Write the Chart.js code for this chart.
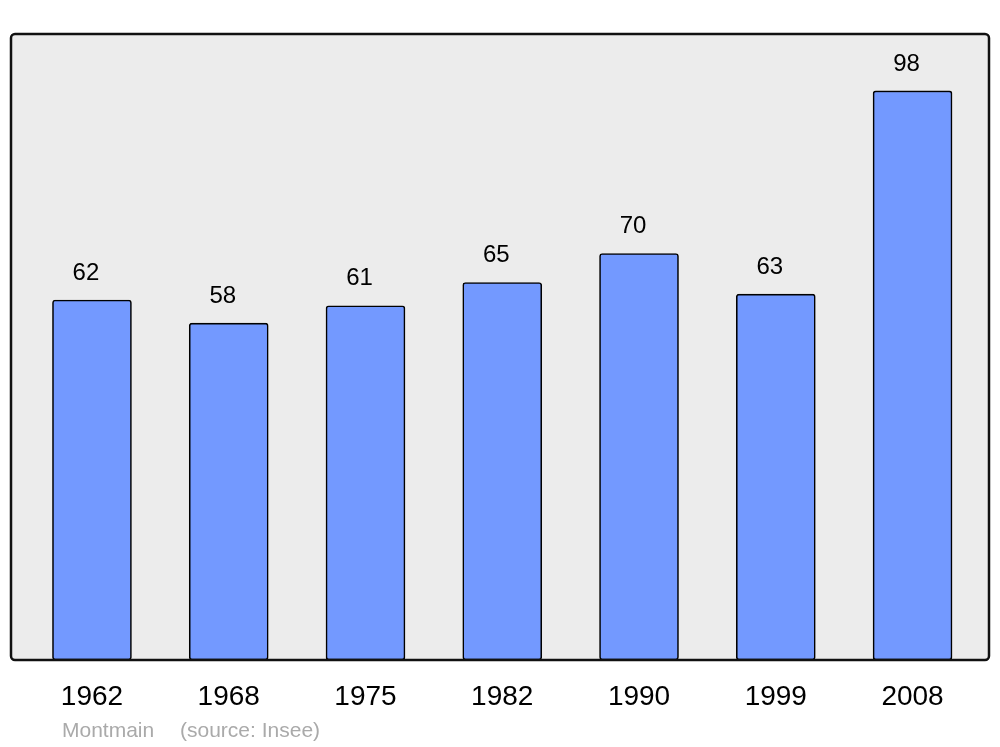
<!DOCTYPE html>
<html>
<head>
<meta charset="utf-8">
<script src="https://cdn.jsdelivr.net/npm/chart.js@4/dist/chart.umd.min.js"></script>
<style>
  html, body { margin: 0; padding: 0; background: #fff; }
  #wrap { width: 1000px; height: 747px; position: relative; }
</style>
</head>
<body>
<div id="wrap"><canvas id="popChart" width="1000" height="747"></canvas></div>
<script>
  // data
  const years = ['1962', '1968', '1975', '1982', '1990', '1999', '2008'];
  const population = [62, 58, 61, 65, 70, 63, 98];
  const town = 'Montmain';
  const source = '(source: Insee)';

  const font = "'Liberation Sans', Arial, sans-serif";

  const frame = {
    id: 'frame',
    beforeDraw(chart) {
      const { ctx, chartArea: a } = chart;
      ctx.save();
      ctx.fillStyle = '#ececec';
      ctx.beginPath();
      ctx.roundRect(a.left, a.top, a.right - a.left, a.bottom - a.top, 4);
      ctx.fill();
      ctx.restore();
    },
    afterDatasetsDraw(chart) {
      const { ctx, chartArea: a } = chart;
      ctx.save();
      ctx.strokeStyle = '#111';
      ctx.lineWidth = 2.5;
      ctx.beginPath();
      ctx.roundRect(a.left, a.top, a.right - a.left, a.bottom - a.top, 4);
      ctx.stroke();

      // value labels
      ctx.fillStyle = '#000';
      ctx.font = '24px ' + font;
      ctx.textAlign = 'center';
      ctx.textBaseline = 'middle';
      chart.getDatasetMeta(0).data.forEach((bar, i) => {
        ctx.fillText(String(population[i]), bar.x - 6, bar.y - 27);
      });

      // footer
      ctx.fillStyle = '#aaa';
      ctx.font = '21px ' + font;
      ctx.textAlign = 'left';
      ctx.textBaseline = 'alphabetic';
      ctx.fillText(town, 62, 737);
      ctx.fillText(source, 180, 737);
      ctx.restore();
    }
  };

  new Chart(document.getElementById('popChart'), {
    type: 'bar',
    data: {
      datasets: [{
        data: population.map((v, i) => ({ x: i, y: v })),
        backgroundColor: '#7399ff',
        borderColor: '#000',
        borderWidth: 1.6,
        borderRadius: 3,
        borderSkipped: false,
        barThickness: 79
      }]
    },
    options: {
      responsive: false,
      animation: false,
      layout: { padding: { top: 34, left: 11, right: 11, bottom: 0 } },
      plugins: { legend: { display: false }, tooltip: { enabled: false } },
      scales: {
        x: {
          type: 'linear',
          offset: false,
          min: -0.592,
          max: 6.559,
          grid: { display: false, drawTicks: false, offset: false },
          border: { display: false },
          afterBuildTicks(scale) {
            scale.ticks = years.map((_, i) => ({ value: i }));
          },
          afterFit(scale) { scale.height = 87; },
          ticks: {
            padding: 20,
            color: '#000',
            font: { family: font, size: 28 },
            maxRotation: 0,
            autoSkip: false,
            callback: (v) => years[v]
          }
        },
        y: {
          display: false,
          min: 0,
          max: 107.8
        }
      }
    },
    plugins: [frame]
  });
</script>
</body>
</html>
